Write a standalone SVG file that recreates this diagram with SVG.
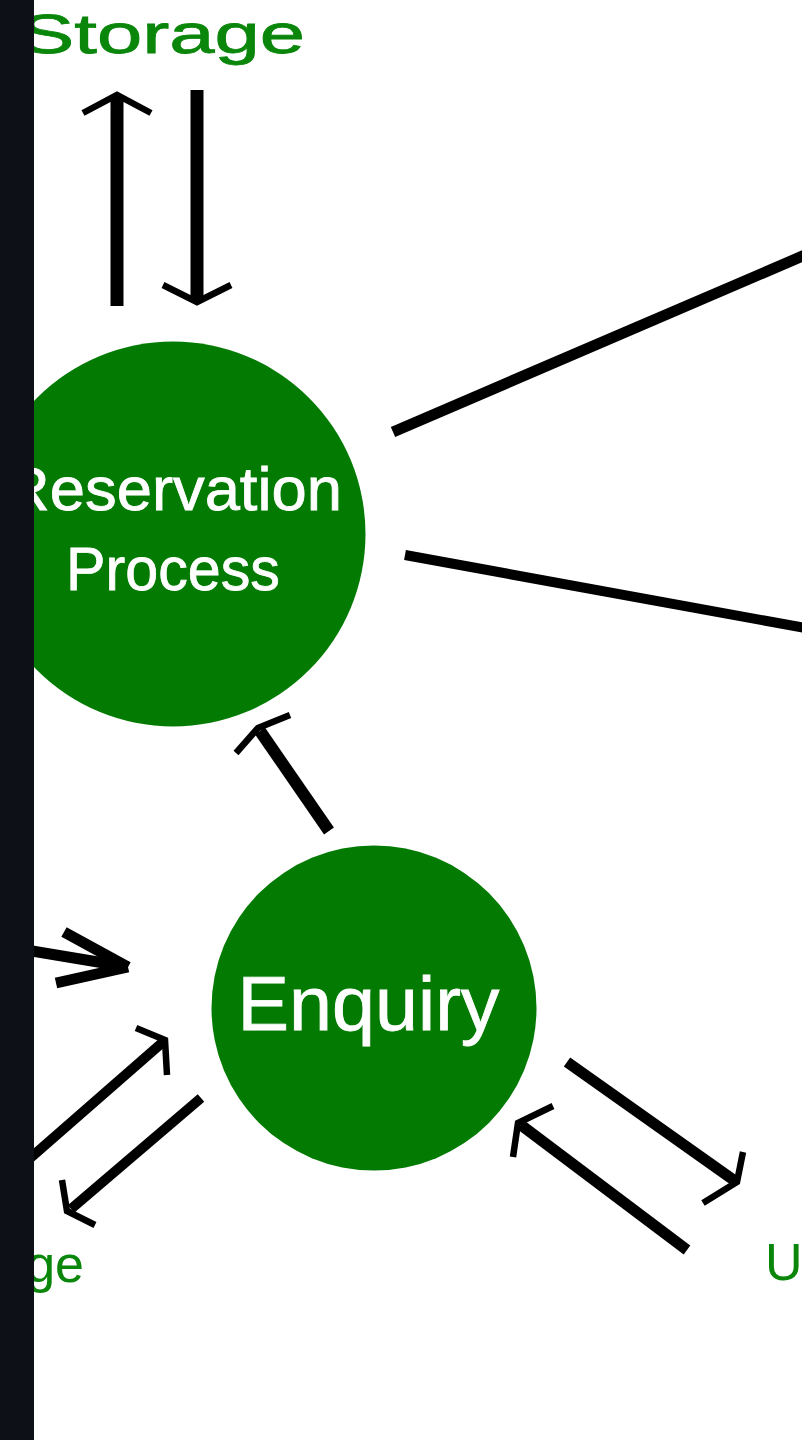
<svg xmlns="http://www.w3.org/2000/svg" width="802" height="1440" viewBox="0 0 802 1440">
  <style>
    .node { fill: #037b03; }
    .ntext { fill: #ffffff; stroke: #ffffff; stroke-width: 0.8; font-family: "Liberation Sans", Arial, sans-serif; text-anchor: middle; }
    .label { fill: #0a860a; font-family: "Liberation Sans", Arial, sans-serif; }
    .shaft { stroke: #000000; fill: none; stroke-linecap: butt; }
    .head { stroke: #000000; fill: none; stroke-width: 6.5; stroke-linecap: butt; stroke-linejoin: miter; }
  </style>
  <rect x="0" y="0" width="802" height="1440" fill="#ffffff"/>

  <g id="connectors">
    <!-- Storage up arrow -->
    <line class="shaft" x1="117" y1="306" x2="117" y2="97" stroke-width="13"/>
    <polyline class="head" points="83,113 117,95 151,113"/>
    <!-- Storage down arrow -->
    <line class="shaft" x1="197" y1="90" x2="197" y2="300" stroke-width="13"/>
    <polyline class="head" points="163,285 197,302 231,285"/>
    <!-- lines to the right -->
    <line class="shaft" x1="393" y1="432" x2="805" y2="255" stroke-width="11"/>
    <line class="shaft" x1="405" y1="555" x2="805" y2="628" stroke-width="10"/>
    <!-- Enquiry to Reservation -->
    <line class="shaft" x1="329" y1="831" x2="260" y2="731" stroke-width="12"/>
    <polyline class="head" points="236,753 258,728 290,715"/>
    <!-- left arrow into Enquiry -->
    <line class="shaft" x1="20" y1="949" x2="128" y2="967" stroke-width="11"/>
    <line class="shaft" x1="64" y1="932" x2="128" y2="967" stroke-width="11"/>
    <line class="shaft" x1="56" y1="983" x2="128" y2="967" stroke-width="11"/>
    <!-- lower-left pair -->
    <line class="shaft" x1="20" y1="1167" x2="163" y2="1042" stroke-width="10"/>
    <polyline class="head" points="136,1028 165,1040 167,1075"/>
    <line class="shaft" x1="201" y1="1098" x2="71" y2="1209" stroke-width="10"/>
    <polyline class="head" points="62,1180 67,1211 95,1225"/>
    <!-- lower-right pair -->
    <line class="shaft" x1="567" y1="1062" x2="735" y2="1181" stroke-width="11"/>
    <polyline class="head" points="743,1152 737,1182 703,1203"/>
    <line class="shaft" x1="687" y1="1250" x2="521" y2="1125" stroke-width="11"/>
    <polyline class="head" points="553,1106 518,1123 513,1157"/>
  </g>

  <g id="reservation">
    <circle class="node" cx="173" cy="534" r="192.5"/>
    <text class="ntext" x="173" y="510" font-size="62" textLength="338" lengthAdjust="spacingAndGlyphs">Reservation</text>
    <text class="ntext" x="173" y="590" font-size="62" textLength="214" lengthAdjust="spacingAndGlyphs">Process</text>
  </g>

  <g id="enquiry">
    <circle class="node" cx="374" cy="1008" r="162.5"/>
    <text class="ntext" x="368.5" y="1030" font-size="76" textLength="262" lengthAdjust="spacingAndGlyphs">Enquiry</text>
  </g>

  <g id="storage-top">
    <text class="label" x="20" y="53" font-size="56" stroke="#0a860a" stroke-width="0.8" textLength="285" lengthAdjust="spacingAndGlyphs">Storage</text>
  </g>
  <g id="storage-bottom">
    <text class="label" x="84" y="1282" font-size="52" text-anchor="end">ge</text>
  </g>
  <g id="user-label">
    <text class="label" x="765" y="1280" font-size="52">U</text>
  </g>

  <rect x="0" y="0" width="34" height="1440" fill="#0d1117"/>
</svg>
